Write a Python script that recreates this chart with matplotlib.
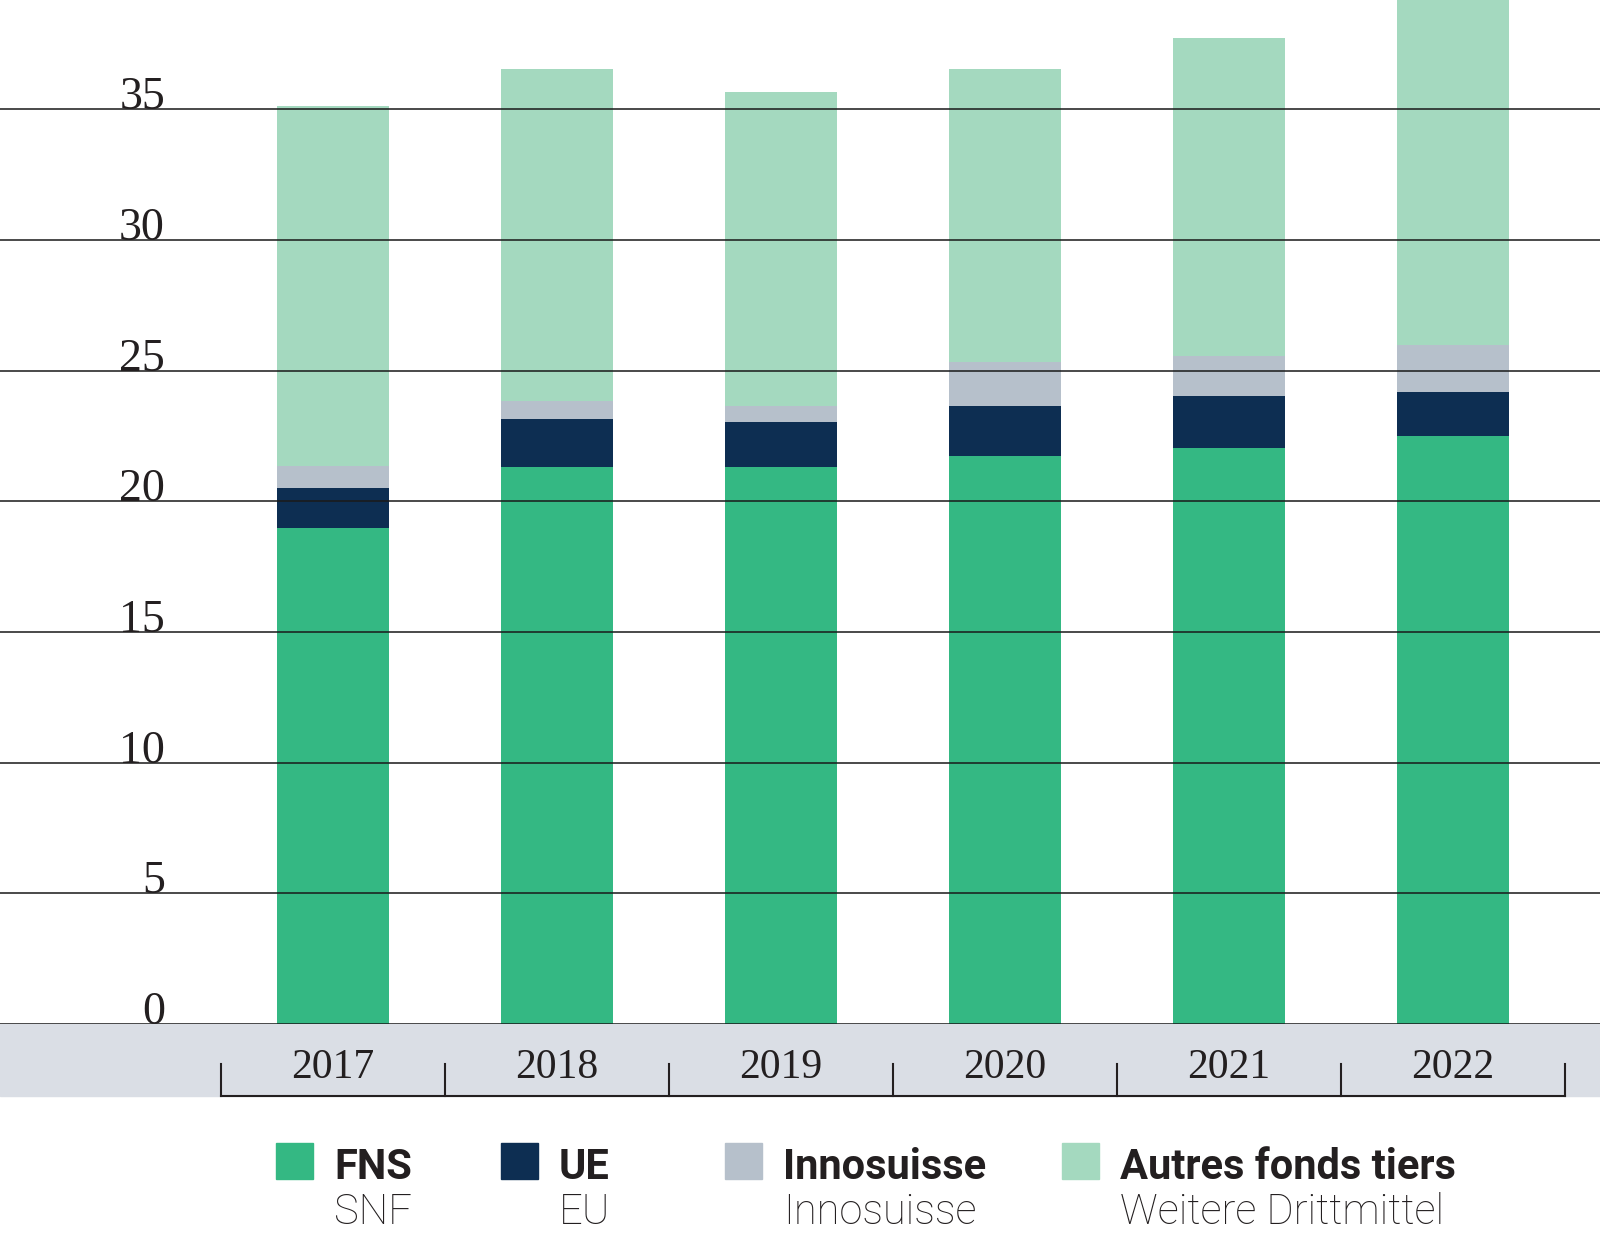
import matplotlib.pyplot as plt
import matplotlib.transforms as mtransforms
from matplotlib.patches import Rectangle
import numpy as np

years = ["2017", "2018", "2019", "2020", "2021", "2022"]
fns = [19.0, 21.3, 21.3, 21.75, 22.05, 22.5]
ue = [1.5, 1.85, 1.75, 1.9, 2.0, 1.7]
innosuisse = [0.85, 0.7, 0.6, 1.7, 1.5, 1.8]
autres = [13.8, 12.7, 12.0, 11.2, 12.2, 13.6]

series_names = ["FNS", "UE", "Innosuisse", "Autres fonds tiers"]
series_names_de = ["SNF", "EU", "Innosuisse", "Weitere Drittmittel"]
colors = ["#34b883", "#0d2e52", "#b6c0cb", "#a4d9bf"]
yticks = [0, 5, 10, 15, 20, 25, 30, 35]

W, H = 1600, 1245
AX_H = 1024  # pixel height of plotting area
fig = plt.figure(figsize=(16, 12.45), dpi=100)
ax = fig.add_axes([0, 1 - AX_H / H, 1, AX_H / H])

x = np.arange(len(years))
bottom = np.zeros(len(years))
for vals, c in zip([fns, ue, innosuisse, autres], colors):
    ax.bar(x, vals, 0.5, bottom=bottom, color=c, zorder=2)
    bottom += np.array(vals)

ax.set_xlim(-333 / 224, (1600 - 333) / 224)
ax.set_ylim(0, AX_H / 26.13)
for s in ax.spines.values():
    s.set_visible(False)
ax.set_xticks([])
ax.set_yticks([])

for v in yticks:
    ax.axhline(v, color="#1a1a1a", lw=1.3, alpha=0.85, zorder=3)

trans_y = mtransforms.blended_transform_factory(ax.transAxes, ax.transData)
for v in yticks:
    ax.text(165 / W, v, str(v), transform=trans_y, ha="right", va="baseline",
            fontsize=33, family="Liberation Serif", color="#231f20")

# grey band under the axis
yb = -72 / AX_H
yt = -40 / AX_H
ax.add_patch(Rectangle((0, yb), 1, -yb, transform=ax.transAxes, color="#dadee5",
                       clip_on=False, zorder=0))

trans_x = mtransforms.blended_transform_factory(ax.transData, ax.transAxes)
edges = np.arange(len(years) + 1) - 0.5
ax.plot([edges[0], edges[-1]], [yb, yb], transform=trans_x, color="#231f20",
        lw=1.5, clip_on=False, zorder=4)
for e in edges:
    ax.plot([e, e], [yb, yt], transform=trans_x, color="#231f20", lw=1.5,
            clip_on=False, zorder=4)
for i, y in enumerate(years):
    ax.text(i, -54 / AX_H, y, transform=trans_x, ha="center", va="baseline",
            fontsize=30, family="Liberation Serif", color="#231f20", zorder=4)

# legend
leg_x = [276, 501, 725, 1062]
for lx, name, name_de, c in zip(leg_x, series_names, series_names_de, colors):
    fig.patches.append(Rectangle((lx / W, 1 - 1179 / H), 37 / W, 36 / H,
                                 transform=fig.transFigure, color=c))
    fig.text((lx + 58) / W, 1 - 1179 / H, name, ha="left", va="baseline",
             fontsize=30, family="Roboto", fontweight="bold", color="#231f20")
    fig.text((lx + 58) / W, 1 - 1224 / H, name_de, ha="left", va="baseline",
             fontsize=30, family="Roboto", fontweight="light", color="#231f20")

fig.savefig("out.png", dpi=100)
